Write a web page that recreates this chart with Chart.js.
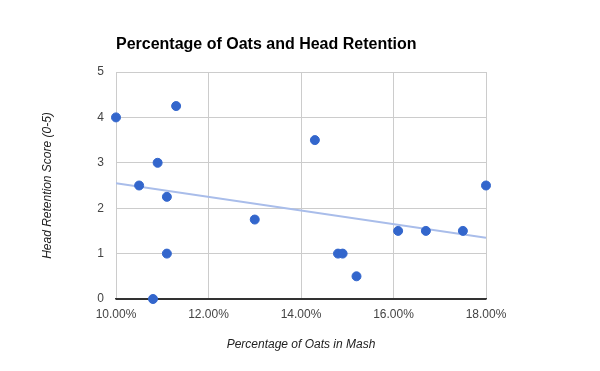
<!DOCTYPE html>
<html lang="en">
<head>
    <meta charset="UTF-8">
    <title>Percentage of Oats and Head Retention</title>
    <script src="https://cdn.jsdelivr.net/npm/chart.js"></script>
    <style>
        body { margin: 0; background: #fff; }
        .chart-container { position: relative; width: 600px; height: 371px; }
    </style>
</head>
<body>

<div class="chart-container">
    <canvas id="grafico"></canvas>
</div>

<script>
    // valores
    const oatsPercent = [10.0, 11.3, 10.9, 10.5, 11.1, 13.0, 11.1, 10.8, 14.3, 18.0, 16.1, 16.7, 17.5, 14.8, 14.9, 15.2];
    const retentionScore = [4, 4.25, 3, 2.5, 2.25, 1.75, 1, 0, 3.5, 2.5, 1.5, 1.5, 1.5, 1, 1, 0.5];
    const trendX = [10, 18];
    const trendY = [2.55, 1.35];
    const xTicks = [10, 12, 14, 16, 18];
    const yTicks = [0, 1, 2, 3, 4, 5];

    const titleText = 'Percentage of Oats and Head Retention';
    const xTitle = 'Percentage of Oats in Mash';
    const yTitle = 'Head Retention Score (0-5)';

    const textos = {
        id: 'textos',
        afterDraw(chart) {
            const ctx = chart.ctx;
            const area = chart.chartArea;
            ctx.save();
            ctx.fillStyle = '#000';
            ctx.font = 'bold 16px "Liberation Sans", Arial, sans-serif';
            ctx.textBaseline = 'middle';
            ctx.textAlign = 'left';
            ctx.fillText(titleText, area.left, 45);

            ctx.fillStyle = '#222';
            ctx.font = 'italic 12px "Liberation Sans", Arial, sans-serif';
            ctx.textAlign = 'center';
            ctx.fillText(xTitle, (area.left + area.right) / 2, 345);

            ctx.translate(48, (area.top + area.bottom) / 2);
            ctx.rotate(-Math.PI / 2);
            ctx.fillText(yTitle, 0, 0);
            ctx.restore();
        }
    };

    const ctx = document.getElementById('grafico').getContext('2d');
    new Chart(ctx, {
        type: 'scatter',
        data: {
            datasets: [{
                data: oatsPercent.map((x, i) => ({ x: x, y: retentionScore[i] })),
                backgroundColor: '#3366cc',
                borderColor: '#3366cc',
                pointRadius: 4.5,
                pointHoverRadius: 4.5,
                clip: false,
                order: 1
            }, {
                data: trendX.map((x, i) => ({ x: x, y: trendY[i] })),
                showLine: true,
                borderColor: '#a9bdea',
                borderWidth: 2,
                pointRadius: 0,
                order: 2
            }]
        },
        options: {
            responsive: true,
            maintainAspectRatio: false,
            animation: false,
            layout: { padding: { top: 72, right: 114, bottom: 0, left: 0 } },
            plugins: {
                legend: { display: false },
                tooltip: { enabled: false }
            },
            scales: {
                x: {
                    type: 'linear',
                    min: 10,
                    max: 18,
                    afterBuildTicks: s => { s.ticks = xTicks.map(v => ({ value: v })); },
                    afterFit: s => { s.height = 72; },
                    grid: { color: '#cccccc', drawTicks: false },
                    border: { color: '#333333', width: 1.5 },
                    ticks: {
                        padding: 8,
                        color: '#444',
                        font: { family: '"Liberation Sans", Arial, sans-serif', size: 12 },
                        maxRotation: 0,
                        callback: v => v.toFixed(2) + '%'
                    }
                },
                y: {
                    min: 0,
                    max: 5,
                    afterBuildTicks: s => { s.ticks = yTicks.map(v => ({ value: v })); },
                    afterFit: s => { s.width = 116; },
                    grid: {
                        color: c => c.tick && c.tick.value === 0 ? '#333333' : '#cccccc',
                        drawTicks: false
                    },
                    border: { display: false },
                    ticks: {
                        padding: 12,
                        color: '#444',
                        font: { family: '"Liberation Sans", Arial, sans-serif', size: 12 }
                    }
                }
            }
        },
        plugins: [textos]
    });
</script>

</body>
</html>
